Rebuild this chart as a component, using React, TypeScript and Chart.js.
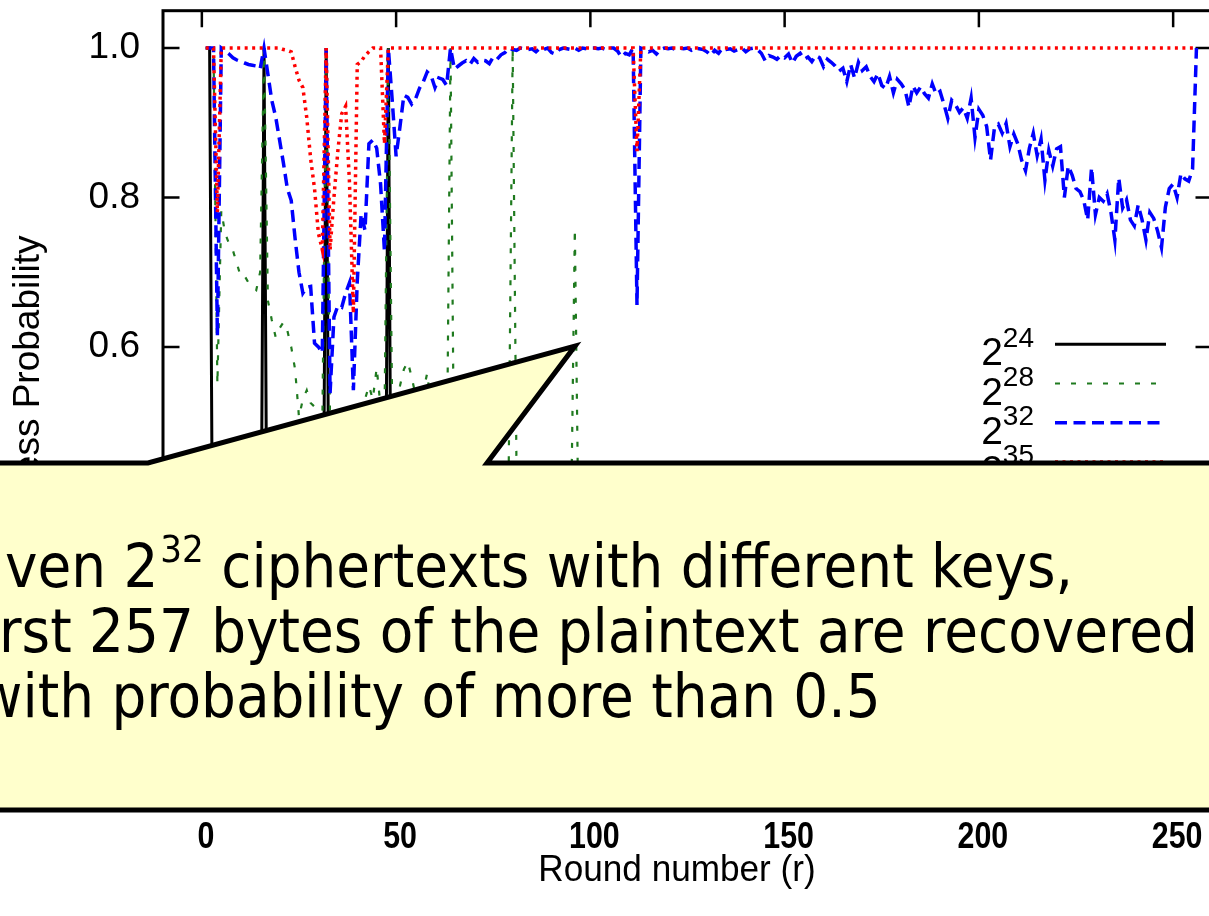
import React, { useEffect, useRef } from 'react';
import { Chart, registerables } from 'chart.js';

Chart.register(...registerables);

// ---------- data (rounds 1..256) ----------
const ROUNDS: number[] = Array.from({ length: 256 }, (_, i) => i + 1);

const P24: number[] = [
  1, 1, 0.08, 0.14, 0.12, 0.11, 0.1, 0.12, 0.09, 0.1, 0.08, 0.09, 0.07, 0.08, 0.1, 1,
  0.09, 0.07, 0.06, 0.08, 0.07, 0.06, 0.05, 0.07, 0.06, 0.05, 0.06, 0.05, 0.04, 0.05, 0.06, 1,
  0.05, 0.04, 0.05, 0.04, 0.03, 0.05, 0.04, 0.03, 0.04, 0.03, 0.04, 0.03, 0.02, 0.03, 0.04, 1,
  0.03, 0.02, 0.03, 0.02, 0.03, 0.02, 0.02, 0.03, 0.02, 0.02, 0.01, 0.02, 0.02, 0.01, 0.02, 0.04,
  0.01, 0.02, 0.01, 0.01, 0.02, 0.01, 0.01, 0.01, 0.02, 0.01, 0.01, 0.01, 0.01, 0.01, 0.01, 0.03,
  0.01, 0.01, 0.01, 0.01, 0.01, 0.01, 0.01, 0.01, 0.01, 0.01, 0.01, 0.01, 0.01, 0.01, 0.01, 0.02,
  0.01, 0, 0.01, 0.01, 0, 0.01, 0, 0.01, 0.01, 0, 0.01, 0, 0, 0.01, 0, 0.01,
  0, 0.01, 0, 0, 0.01, 0, 0, 0.01, 0, 0, 0, 0.01, 0, 0, 0, 0.01,
  0, 0, 0.01, 0, 0, 0, 0, 0.01, 0, 0, 0, 0, 0.01, 0, 0, 0,
  0, 0, 0, 0.01, 0, 0, 0, 0, 0, 0.01, 0, 0, 0, 0, 0, 0,
  0, 0.01, 0, 0, 0, 0, 0, 0, 0, 0, 0.01, 0, 0, 0, 0, 0,
  0, 0, 0, 0, 0.01, 0, 0, 0, 0, 0, 0, 0, 0, 0.01, 0, 0,
  0, 0, 0, 0, 0, 0, 0.01, 0, 0, 0, 0, 0, 0, 0, 0, 0,
  0, 0, 0.01, 0, 0, 0, 0, 0, 0, 0, 0, 0.01, 0, 0, 0, 0,
  0, 0, 0, 0, 0, 0.01, 0, 0, 0, 0, 0, 0, 0, 0, 0, 0,
  0, 0, 0, 0, 0, 0, 0, 0, 0.01, 0, 0, 0, 0, 0, 0, 0.01,
];

const P28: number[] = [
  1, 1, 1, 0.55, 0.782, 0.752, 0.738, 0.729, 0.712, 0.694, 0.695, 0.686, 0.68, 0.676, 0.7, 1,
  0.662, 0.636, 0.613, 0.625, 0.633, 0.622, 0.6, 0.57, 0.506, 0.53, 0.542, 0.525, 0.52, 0.505, 0.49, 1,
  0.5, 0.48, 0.47, 0.495, 0.485, 0.515, 0.5, 0.49, 0.51, 0.53, 0.548, 0.53, 0.572, 0.52, 0.5, 1,
  0.51, 0.53, 0.548, 0.57, 0.58, 0.56, 0.535, 0.552, 0.54, 0.565, 0.52, 0.505, 0.49, 0.47, 0.4, 1,
  0.38, 0.41, 0.395, 0.42, 0.405, 0.415, 0.43, 0.4, 0.42, 0.425, 0.41, 0.446, 0.44, 0.452, 0.448, 1,
  0.43, 0.42, 0.4, 0.39, 0.405, 0.38, 0.395, 0.37, 0.385, 0.36, 0.375, 0.35, 0.365, 0.34, 0.355, 0.758,
  0.33, 0.34, 0.31, 0.32, 0.3, 0.31, 0.29, 0.3, 0.28, 0.3, 0.27, 0.28, 0.26, 0.27, 0.25, 0.24,
  0.26, 0.25, 0.24, 0.25, 0.23, 0.24, 0.22, 0.23, 0.21, 0.22, 0.2, 0.21, 0.2, 0.19, 0.2, 0.22,
  0.19, 0.18, 0.19, 0.17, 0.18, 0.17, 0.16, 0.17, 0.16, 0.15, 0.16, 0.15, 0.14, 0.15, 0.14, 0.16,
  0.13, 0.14, 0.13, 0.12, 0.13, 0.12, 0.12, 0.11, 0.12, 0.11, 0.1, 0.11, 0.1, 0.1, 0.09, 0.11,
  0.09, 0.1, 0.09, 0.08, 0.09, 0.08, 0.08, 0.07, 0.08, 0.07, 0.07, 0.06, 0.07, 0.06, 0.06, 0.07,
  0.06, 0.05, 0.06, 0.05, 0.05, 0.05, 0.04, 0.05, 0.04, 0.04, 0.04, 0.03, 0.04, 0.03, 0.03, 0.04,
  0.03, 0.03, 0.03, 0.02, 0.03, 0.02, 0.02, 0.03, 0.02, 0.02, 0.02, 0.02, 0.02, 0.01, 0.02, 0.02,
  0.02, 0.01, 0.02, 0.01, 0.01, 0.02, 0.01, 0.01, 0.01, 0.01, 0.02, 0.01, 0.01, 0.01, 0.01, 0.01,
  0.01, 0.01, 0.02, 0.01, 0.01, 0.01, 0.01, 0.01, 0.01, 0.02, 0.01, 0.01, 0.01, 0.01, 0.01, 0.01,
  0.01, 0.01, 0.01, 0.01, 0.01, 0.01, 0.02, 0.01, 0.01, 0.01, 0.01, 0.01, 0.01, 0.01, 0.01, 0.02,
];

const P32: number[] = [
  1, 1, 1, 0.615, 1, 0.996, 0.992, 0.987, 0.984, 0.982, 0.98, 0.978, 0.977, 0.976, 0.972, 1,
  0.965, 0.93, 0.908, 0.877, 0.846, 0.812, 0.796, 0.745, 0.7, 0.672, 0.68, 0.681, 0.605, 0.6, 0.592, 1,
  0.538, 0.64, 0.655, 0.653, 0.672, 0.686, 0.542, 0.688, 0.778, 0.756, 0.872, 0.877, 0.866, 0.818, 0.728, 1,
  0.93, 0.855, 0.895, 0.937, 0.934, 0.925, 0.932, 0.946, 0.955, 0.968, 0.963, 0.947, 0.96, 0.958, 0.95, 1,
  0.972, 0.976, 0.98, 0.983, 0.978, 0.986, 0.981, 0.984, 0.983, 0.979, 0.988, 0.985, 0.991, 0.994, 1, 0.998,
  0.997, 1, 0.999, 0.998, 0.999, 0.995, 1, 0.998, 1, 0.994, 0.992, 0.998, 1, 0.999, 0.998, 1,
  0.997, 1, 0.999, 1, 1, 0.999, 1, 0.998, 1, 1, 0.996, 0.988, 0.993, 0.991, 1, 0.656,
  1, 0.998, 0.995, 0.997, 0.992, 0.998, 1, 0.999, 1, 0.998, 1, 0.999, 1, 0.997, 1, 0.999,
  0.998, 0.995, 0.99, 0.997, 0.993, 1, 0.998, 0.999, 0.996, 0.998, 1, 0.995, 0.999, 1, 0.998, 0.993,
  0.983, 0.99, 0.988, 0.985, 0.99, 0.987, 0.992, 0.98, 0.989, 0.993, 0.985, 0.988, 0.982, 0.99, 0.987, 0.975,
  0.985, 0.981, 0.976, 0.969, 0.973, 0.955, 0.978, 0.96, 0.981, 0.97, 0.975, 0.962, 0.955, 0.966, 0.95, 0.946,
  0.962, 0.94, 0.958, 0.952, 0.944, 0.921, 0.949, 0.94, 0.948, 0.939, 0.933, 0.952, 0.938, 0.942, 0.925, 0.906,
  0.93, 0.924, 0.914, 0.92, 0.906, 0.933, 0.88, 0.918, 0.91, 0.895, 0.85, 0.893, 0.898, 0.886, 0.899, 0.868,
  0.885, 0.872, 0.85, 0.836, 0.866, 0.886, 0.856, 0.878, 0.823, 0.863, 0.842, 0.865, 0.868, 0.8, 0.842, 0.83,
  0.812, 0.808, 0.796, 0.77, 0.84, 0.777, 0.8, 0.795, 0.805, 0.78, 0.743, 0.826, 0.786, 0.797, 0.77, 0.762,
  0.79, 0.77, 0.743, 0.78, 0.772, 0.755, 0.733, 0.787, 0.812, 0.818, 0.8, 0.832, 0.825, 0.822, 0.838, 1,
];

const P35: number[] = [
  1, 1, 1, 0.78, 1, 1, 1, 1, 1, 1, 1, 1, 1, 1, 1, 1,
  1, 1, 1, 1, 0.998, 0.997, 0.995, 0.975, 0.957, 0.947, 0.907, 0.852, 0.812, 0.752, 0.73, 1,
  0.73, 0.8, 0.862, 0.912, 0.922, 0.82, 0.645, 0.978, 0.982, 0.99, 0.995, 1, 1, 1, 0.872, 1,
  1, 1, 1, 1, 1, 1, 1, 1, 1, 1, 1, 1, 1, 1, 1, 1,
  1, 1, 1, 1, 1, 1, 1, 1, 1, 1, 1, 1, 1, 1, 1, 1,
  1, 1, 1, 1, 1, 1, 1, 1, 1, 1, 1, 1, 1, 1, 1, 1,
  1, 1, 1, 1, 1, 1, 1, 1, 1, 1, 1, 1, 1, 1, 1, 0.862,
  1, 1, 1, 1, 1, 1, 1, 1, 1, 1, 1, 1, 1, 1, 1, 1,
  1, 1, 1, 1, 1, 1, 1, 1, 1, 1, 1, 1, 1, 1, 1, 1,
  1, 1, 1, 1, 1, 1, 1, 1, 1, 1, 1, 1, 1, 1, 1, 1,
  1, 1, 1, 1, 1, 1, 1, 1, 1, 1, 1, 1, 1, 1, 1, 1,
  1, 1, 1, 1, 1, 1, 1, 1, 1, 1, 1, 1, 1, 1, 1, 1,
  1, 1, 1, 1, 1, 1, 1, 1, 1, 1, 1, 1, 1, 1, 1, 1,
  1, 1, 1, 1, 1, 1, 1, 1, 1, 1, 1, 1, 1, 1, 1, 1,
  1, 1, 1, 1, 1, 1, 1, 1, 1, 1, 1, 1, 1, 1, 1, 1,
  1, 1, 1, 1, 1, 1, 1, 1, 1, 1, 1, 1, 1, 1, 1, 1,
];

const X_TICKS: number[] = [0, 50, 100, 150, 200, 250];
const Y_TICKS: number[] = [0, 0.2, 0.4, 0.6, 0.8, 1.0];
const X_TITLE = 'Round number (r)';
const Y_TITLE = 'Success Probability';
const LEGEND_BASE = '2';
const LEGEND_EXPONENTS: string[] = ['24', '28', '32', '35'];
const CALLOUT_LINE1 = { pre: 'Given 2', sup: '32', post: ' ciphertexts with different keys,' };
const CALLOUT_LINE2 = 'first 257 bytes of the plaintext are recovered';
const CALLOUT_LINE3 = 'with probability of more than 0.5';

// ---------- styles / layout ----------
const CANVAS_W = 1240;
const CANVAS_H = 916;
const AREA_TOP = 10.7;
const AREA_BOTTOM = 795.2;
const AREA_LEFT = 163;
const AREA_RIGHT = 1212;
const TICK_LEN = 16.5;
const AX_FONT = '"Liberation Sans", Arial, sans-serif';
const CALLOUT_FONT = '"DejaVu Sans Condensed", "DejaVu Sans", Verdana, sans-serif';

const STYLES = [
  { color: '#000000', width: 3, dash: [] as number[] },
  { color: '#1f7a1f', width: 2.2, dash: [5, 11] },
  { color: '#0000ff', width: 3.5, dash: [12, 6.5] },
  { color: '#ff0000', width: 3.5, dash: [3, 4.5] },
];

const SERIES = [P24, P28, P32, P35];

const overlayPlugin = {
  id: 'gnuplotOverlay',
  beforeDatasetsDraw(chart: any) {
    const { ctx, chartArea: a, scales } = chart;
    ctx.save();
    ctx.setLineDash([]);
    ctx.strokeStyle = '#000';
    ctx.lineWidth = 3;
    ctx.strokeRect(a.left, a.top, a.right - a.left, a.bottom - a.top);
    ctx.lineWidth = 2.5;
    ctx.beginPath();
    for (const v of X_TICKS) {
      const x = scales.x.getPixelForValue(v);
      ctx.moveTo(x, a.top);
      ctx.lineTo(x, a.top + TICK_LEN);
      ctx.moveTo(x, a.bottom);
      ctx.lineTo(x, a.bottom - TICK_LEN);
    }
    for (const v of Y_TICKS) {
      const y = scales.y.getPixelForValue(v);
      ctx.moveTo(a.left, y);
      ctx.lineTo(a.left + TICK_LEN, y);
      ctx.moveTo(a.right, y);
      ctx.lineTo(a.right - TICK_LEN, y);
    }
    ctx.stroke();

    // x tick labels (slightly condensed, as in the source figure)
    ctx.fillStyle = '#000';
    ctx.font = `bold 37px ${AX_FONT}`;
    ctx.textAlign = 'center';
    ctx.textBaseline = 'alphabetic';
    for (const v of X_TICKS) {
      const x = scales.x.getPixelForValue(v) + 4;
      ctx.save();
      ctx.translate(x, 848);
      ctx.scale(0.82, 1);
      ctx.fillText(String(v), 0, 0);
      ctx.restore();
    }
    ctx.restore();
  },
  afterDatasetsDraw(chart: any) {
    const { ctx } = chart;
    ctx.save();
    ctx.fillStyle = '#000';

    // axis titles
    ctx.font = `37px ${AX_FONT}`;
    ctx.textAlign = 'center';
    ctx.textBaseline = 'alphabetic';
    ctx.save();
    ctx.translate(677, 881);
    ctx.scale(0.95, 1);
    ctx.fillText(X_TITLE, 0, 0);
    ctx.restore();
    ctx.save();
    ctx.translate(39, 397);
    ctx.rotate(-Math.PI / 2);
    ctx.fillText(Y_TITLE, 0, 0);
    ctx.restore();

    // legend
    const legX1 = 1055, legX2 = 1166, legY0 = 344.3, legDY = 39.2, textRight = 1034;
    ctx.textAlign = 'left';
    chart.data.datasets.forEach((ds: any, i: number) => {
      const y = legY0 + i * legDY;
      ctx.save();
      ctx.strokeStyle = ds.borderColor;
      ctx.lineWidth = ds.borderWidth;
      ctx.setLineDash(ds.borderDash || []);
      ctx.beginPath();
      ctx.moveTo(legX1, y);
      ctx.lineTo(legX2, y);
      ctx.stroke();
      ctx.restore();
      ctx.font = `28px ${AX_FONT}`;
      const ew = ctx.measureText(LEGEND_EXPONENTS[i]).width;
      ctx.fillText(LEGEND_EXPONENTS[i], textRight - ew, y + 2.5);
      ctx.font = `39px ${AX_FONT}`;
      const bw = ctx.measureText(LEGEND_BASE).width;
      ctx.fillText(LEGEND_BASE, textRight - ew - bw, y + 21);
    });

    // callout
    const boxTop = 463, boxBottom = 810;
    ctx.beginPath();
    ctx.moveTo(-20, boxTop);
    ctx.lineTo(148, boxTop);
    ctx.lineTo(575, 346);
    ctx.lineTo(487, boxTop);
    ctx.lineTo(CANVAS_W + 20, boxTop);
    ctx.lineTo(CANVAS_W + 20, boxBottom);
    ctx.lineTo(-20, boxBottom);
    ctx.closePath();
    ctx.fillStyle = '#ffffcc';
    ctx.fill();
    ctx.lineWidth = 5;
    ctx.lineJoin = 'miter';
    ctx.strokeStyle = '#000';
    ctx.setLineDash([]);
    ctx.stroke();

    ctx.fillStyle = '#000';
    ctx.textAlign = 'left';
    ctx.textBaseline = 'alphabetic';
    const big = `61px ${CALLOUT_FONT}`;
    const small = `38px ${CALLOUT_FONT}`;
    ctx.font = big;
    // line 1
    let x = 5 - ctx.measureText('Gi').width;
    ctx.fillText(CALLOUT_LINE1.pre, x, 587);
    x += ctx.measureText(CALLOUT_LINE1.pre).width + 2;
    ctx.font = small;
    ctx.fillText(CALLOUT_LINE1.sup, x, 562);
    x += ctx.measureText(CALLOUT_LINE1.sup).width;
    ctx.font = big;
    ctx.fillText(CALLOUT_LINE1.post, x, 587);
    // line 2
    ctx.fillText(CALLOUT_LINE2, -1 - ctx.measureText('fi').width, 652);
    // line 3
    ctx.fillText(CALLOUT_LINE3, -0.5 * ctx.measureText('w').width, 717);
    ctx.restore();
  },
};

export default function App() {
  const ref = useRef<HTMLCanvasElement>(null);

  useEffect(() => {
    if (!ref.current) return;
    const datasets = SERIES.map((vals, i) => ({
      label: LEGEND_BASE + '^' + LEGEND_EXPONENTS[i],
      data: vals.map((v, j) => ({ x: ROUNDS[j], y: v })),
      borderColor: STYLES[i].color,
      backgroundColor: STYLES[i].color,
      borderWidth: STYLES[i].width,
      borderDash: STYLES[i].dash,
      borderCapStyle: 'butt',
      pointRadius: 0,
      fill: false,
      tension: 0,
      order: 3 - i,
    }));
    const chart = new Chart(ref.current, {
      type: 'line',
      data: { datasets },
      options: {
        responsive: false,
        animation: false,
        events: [],
        layout: { padding: { top: AREA_TOP, right: CANVAS_W - AREA_RIGHT, left: 0, bottom: 0 } },
        plugins: { legend: { display: false }, tooltip: { enabled: false }, title: { display: false } },
        scales: {
          x: {
            type: 'linear',
            min: -10,
            max: 260,
            afterBuildTicks: (axis: any) => {
              axis.ticks = X_TICKS.map((v) => ({ value: v }));
            },
            afterFit: (axis: any) => {
              axis.height = CANVAS_H - AREA_BOTTOM;
              axis.paddingLeft = 0;
              axis.paddingRight = 0;
            },
            grid: { display: false, drawTicks: false },
            border: { display: false },
            ticks: { display: false },
          },
          y: {
            type: 'linear',
            min: 0,
            max: 1.05,
            afterBuildTicks: (axis: any) => {
              axis.ticks = Y_TICKS.map((v) => ({ value: v }));
            },
            afterFit: (axis: any) => {
              axis.width = AREA_LEFT;
              axis.paddingTop = 0;
              axis.paddingBottom = 0;
            },
            grid: { display: false, drawTicks: false },
            border: { display: false },
            ticks: {
              color: '#000',
              font: { family: AX_FONT, size: 37 },
              padding: 23,
              autoSkip: false,
              callback: (v: any) => Number(v).toFixed(1),
            },
          },
        },
      } as any,
      plugins: [overlayPlugin],
    } as any);
    return () => chart.destroy();
  }, []);

  return (
    <div
      style={{
        position: 'fixed',
        left: 0,
        top: 0,
        width: 1209,
        height: 916,
        overflow: 'hidden',
        background: '#ffffff',
      }}
    >
      <canvas
        ref={ref}
        width={CANVAS_W}
        height={CANVAS_H}
        style={{ display: 'block', width: CANVAS_W, height: CANVAS_H }}
      />
    </div>
  );
}
